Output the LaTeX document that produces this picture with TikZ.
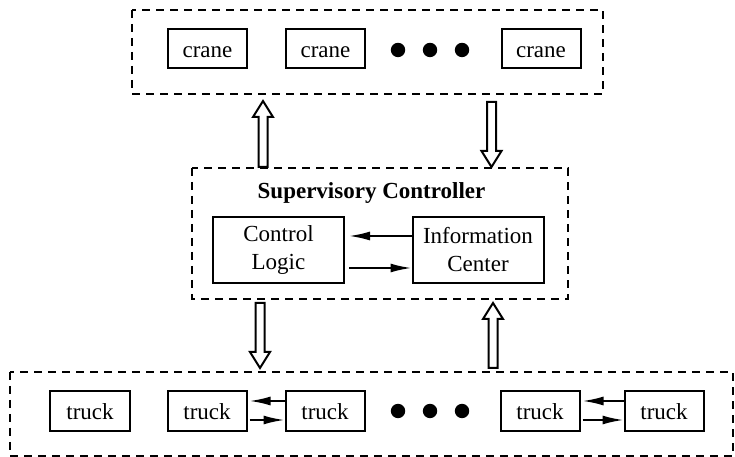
\documentclass[tikz,border=0pt]{standalone}
\usepackage{fontspec}
\setmainfont{Liberation Serif}
\usetikzlibrary{arrows.meta,calc}

\tikzset{
  unit/.style={draw, line width=1bp, inner sep=0pt, text height=8.8bp, text depth=0pt,
    minimum width=39.5bp, minimum height=19.75bp},
  block/.style={draw, line width=1bp, inner sep=0pt, minimum width=65.5bp, minimum height=33bp, align=center},
  group/.style={draw, line width=0.9bp, dash pattern=on 4bp off 3bp},
  dot/.style={circle, fill, inner sep=0pt, minimum size=7.2bp},
  link/.style={line width=1bp, -{Latex[length=10.5bp,width=4.5bp]}},
  % wide open arrow between two points
  hollow/.style={line width=1bp, line join=miter, to path={
    ($(\tikztostart)!2.25bp!90:(\tikztotarget)$)
    -- ($(\tikztotarget)!8bp!(\tikztostart)!2.25bp!-90:(\tikztostart)$)
    -- ($(\tikztotarget)!8bp!(\tikztostart)!5bp!-90:(\tikztostart)$)
    -- (\tikztotarget)
    -- ($(\tikztotarget)!8bp!(\tikztostart)!5bp!90:(\tikztostart)$)
    -- ($(\tikztotarget)!8bp!(\tikztostart)!2.25bp!90:(\tikztostart)$)
    -- ($(\tikztostart)!2.25bp!-90:(\tikztotarget)$) -- cycle}}
}

\begin{document}
\begin{tikzpicture}[x=0.5bp, y=-0.5bp, font=\fontsize{11.5bp}{14bp}\selectfont]

	\useasboundingbox (0,0) rectangle (735,457);

	% cranes

	\draw[group] (132,10) rectangle (603,94);

	\node[unit] (C1) at (207.5,48.5) {crane};
	\node[unit] (C2) at (325.5,48.5) {crane};
	\node[dot] (D1) at (398,50) {};
	\node[dot] (D2) at (430,50) {};
	\node[dot] (D3) at (462,50) {};
	\node[unit] (C3) at (541,48.5) {crane};

	% supervisory controller

	\draw[group] (192,168) rectangle (568,299);

	\node[anchor=base] (S) at (371.5,199) {\bfseries Supervisory Controller};
	\node[block] (L) at (278.5,250) {Control\\Logic};
	\node[block] (I) at (478,250) {Information\\Center};

	\draw[link, shorten >=2bp] ([yshift=7bp]I.west) -- ([yshift=7bp]L.east);
	\draw[link, shorten <=2bp] ([yshift=-9bp]L.east) -- ([yshift=-9bp]I.west);

	% trucks

	\draw[group] (10,372) rectangle (733,456);

	\node[unit] (T1) at (90,411) {truck};
	\node[unit] (T2) at (207,411) {truck};
	\node[unit] (T3) at (325,411) {truck};
	\node[dot] (D4) at (398,411) {};
	\node[dot] (D5) at (430,411) {};
	\node[dot] (D6) at (462,411) {};
	\node[unit] (T4) at (540,411) {truck};
	\node[unit] (T5) at (664,411) {truck};

	\draw[link, shorten >=1bp] ([yshift=5bp]T3.west) -- ([yshift=5bp]T2.east);
	\draw[link, shorten <=1bp] ([yshift=-4.5bp]T2.east) -- ([yshift=-4.5bp]T3.west);
	\draw[link, shorten >=1bp] ([yshift=5bp]T5.west) -- ([yshift=5bp]T4.east);
	\draw[link, shorten <=1bp] ([yshift=-4.5bp]T4.east) -- ([yshift=-4.5bp]T5.west);

	% flows between the levels

	\coordinate (A1) at (263,167);
	\coordinate (A2) at (263,101);
	\coordinate (B1) at (491.5,102);
	\coordinate (B2) at (491.5,167);
	\coordinate (E1) at (260,303);
	\coordinate (E2) at (260,368);
	\coordinate (F1) at (493,368);
	\coordinate (F2) at (493,303);

	\draw[hollow] (A1) to (A2);
	\draw[hollow] (B1) to (B2);
	\draw[hollow] (E1) to (E2);
	\draw[hollow] (F1) to (F2);

\end{tikzpicture}
\end{document}
